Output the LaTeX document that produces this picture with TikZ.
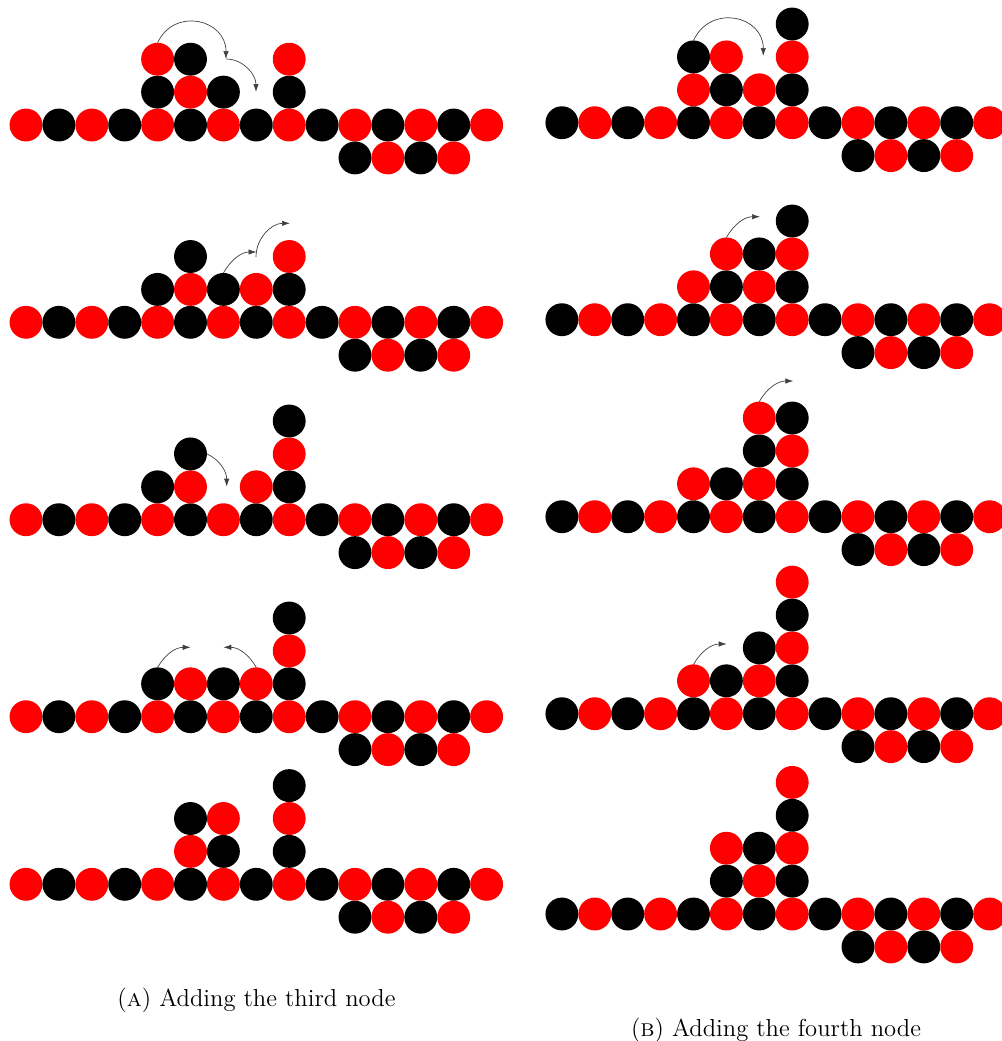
\documentclass[tikz,border=0pt]{standalone}
\usepackage{fontspec}
\usetikzlibrary{arrows.meta}
\tikzset{
  ball/.style={circle, minimum size=16.45pt, inner sep=0pt, outer sep=0pt, draw=none},
  mv/.style={draw=black!75, line width=0.35pt, -{Latex[length=4pt,width=2.7pt]}},
  capt/.style={anchor=base, inner sep=0pt, font=\fontsize{12.3}{15}\selectfont}
}
% #1 panel name, #2 x0 (px), #3 y0 (px, downwards), #4 list j/k
\newcommand\mkball[4]{%
  \foreach \j/\k in {#4}{%
    \pgfmathtruncatemacro\bpar{mod(\j+\k+20,2)}%
    \ifnum\bpar=0 \def\bcol{red}\else\def\bcol{black}\fi
    \node[ball, fill=\bcol] (#1-\j-\k) at ({#2+32.9*\j},{-#3+32.9*\k}) {};
  }}
% #1 name, #2 x0, #3 y0, #4 first column, #5 extra balls
\newcommand\mkpanel[5]{%
  \foreach \j in {#4,...,14}{%
    \pgfmathtruncatemacro\bpar{mod(\j,2)}%
    \ifnum\bpar=0 \def\bcol{red}\else\def\bcol{black}\fi
    \node[ball, fill=\bcol] (#1-\j-0) at ({#2+32.9*\j},{-#3}) {};}
  \foreach \j in {10,...,13}{%
    \pgfmathtruncatemacro\bpar{mod(\j+1,2)}%
    \ifnum\bpar=0 \def\bcol{red}\else\def\bcol{black}\fi
    \node[ball, fill=\bcol] (#1-\j-d) at ({#2+32.9*\j},{-#3-32.9}) {};}
  \mkball{#1}{#2}{#3}{#5}}
\begin{document}
\begin{tikzpicture}[x=0.5pt,y=0.5pt]
\useasboundingbox (0,0) rectangle (1002,-1041);
% ---- column A ----
\mkpanel{A1}{26}{125}{0}{4/1,5/1,6/1,8/1,4/2,5/2,8/2}
\mkpanel{A2}{26}{322.3}{0}{4/1,5/1,6/1,7/1,8/1,5/2,8/2}
\mkpanel{A3}{26}{519.7}{0}{4/1,5/1,7/1,8/1,5/2,8/2,8/3}
\mkpanel{A4}{26}{716.7}{0}{4/1,5/1,6/1,7/1,8/1,8/2,8/3}
\mkpanel{A5}{26}{884.3}{0}{5/1,6/1,8/1,5/2,6/2,8/2,8/3}
% ---- column B ----
\mkpanel{B1}{529}{122.7}{1}{5/1,6/1,7/1,8/1,5/2,6/2,8/2,8/3}
\mkpanel{B2}{529}{319.7}{1}{5/1,6/1,7/1,8/1,6/2,7/2,8/2,8/3}
\mkpanel{B3}{529}{516.7}{1}{5/1,6/1,7/1,8/1,7/2,8/2,7/3,8/3}
\mkpanel{B4}{529}{713.7}{1}{5/1,6/1,7/1,8/1,7/2,8/2,8/3,8/4}
\mkpanel{B5}{529}{914}{1}{6/1,7/1,8/1,6/2,7/2,8/2,8/3,8/4}
% ---- arrows A ----
\coordinate (A1t1) at (226,-59);
\coordinate (A1t2) at (256,-92);
\draw[mv] (A1-4-2.north) to[out=65,in=90,looseness=1.45] (A1t1);
\draw[mv] (A1t1) to[out=0,in=90] (A1t2);
\coordinate (A2t1) at (256.5,-252);
\coordinate (A2s2) at (256,-257);
\coordinate (A2t2) at (290,-223.3);
\draw[mv] (A2-6-1.north) to[out=60,in=180] (A2t1);
\draw[mv] (A2s2) to[out=90,in=180] (A2t2);
\coordinate (A3t) at (226.7,-486.7);
\draw[mv] (A3-5-2.east) to[out=-25,in=90] (A3t);
\coordinate (A4t1) at (190.7,-647.3);
\coordinate (A4t2) at (223.3,-647.3);
\draw[mv] (A4-4-1.north) to[out=60,in=180] (A4t1);
\draw[mv] (A4-7-1.north) to[out=120,in=0] (A4t2);
% ---- arrows B ----
\coordinate (B1t) at (763.3,-56);
\draw[mv] (B1-5-2.north) to[out=65,in=90,looseness=1.45] (B1t);
\coordinate (B2t) at (760,-216.7);
\draw[mv] (B2-6-2.north) to[out=60,in=180] (B2t);
\coordinate (B3t) at (793.3,-381);
\draw[mv] (B3-7-3.north) to[out=60,in=180] (B3t);
\coordinate (B4t) at (726.7,-644);
\draw[mv] (B4-5-1.north) to[out=60,in=180] (B4t);
% ---- captions ----
\node[capt] (capA) at (256.5,-1006.7) {(\textsc{a}) Adding the third node};
\node[capt] (capB) at (776,-1036) {(\textsc{b}) Adding the fourth node};
\end{tikzpicture}
\end{document}
